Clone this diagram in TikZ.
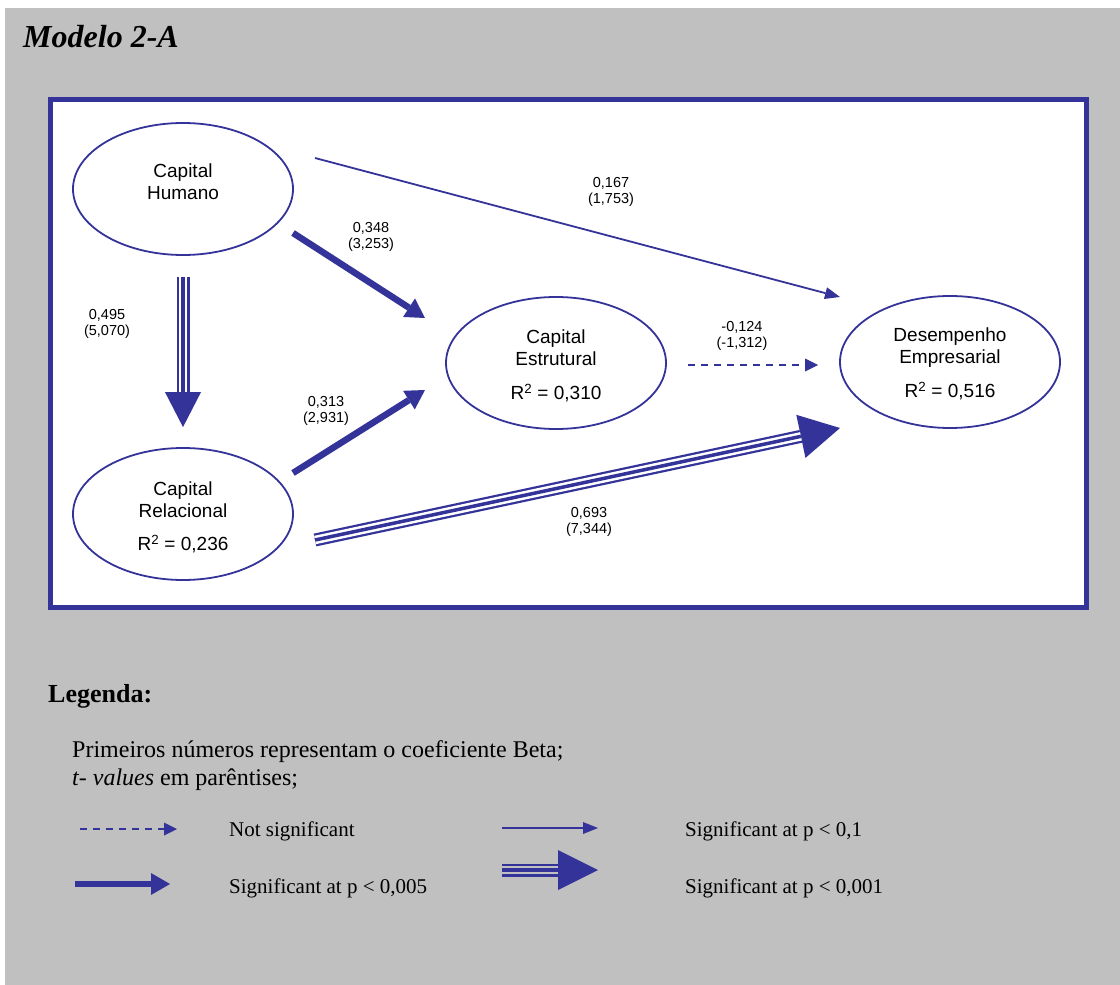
\documentclass[tikz,border=0pt]{standalone}
\usepackage{fontspec}
\setmainfont{Liberation Serif}
\newfontfamily\arialfont{Liberation Sans}
\usetikzlibrary{arrows.meta,shapes.geometric,calc}
\definecolor{pathblue}{RGB}{51,51,153}
\definecolor{panelgray}{RGB}{192,192,192}

\tikzset{
  construct/.style={ellipse, draw=pathblue, line width=1.8pt,
    minimum width=220pt, minimum height=132pt, inner sep=0pt},
  ctext/.style={font=\arialfont\fontsize{19}{22}\selectfont, align=center,
    inner sep=0pt},
  coef/.style={font=\arialfont\fontsize{14.5}{16}\selectfont, align=center,
    inner sep=0pt},
  legtext/.style={font=\fontsize{21}{24}\selectfont, inner sep=0pt, anchor=base west},
  notetext/.style={font=\fontsize{24}{28}\selectfont, inner sep=0pt, anchor=base west},
  thinarrow/.style={color=pathblue, line width=1.8pt,
    -{Triangle[length=15pt,width=12pt,line width=0pt 0 1]}},
  thickarrow/.style={color=pathblue, line width=6.5pt,
    -{Triangle[length=19pt,width=22pt,line width=0pt 0 1]}},
  dasharrow/.style={color=pathblue, line width=1.4pt, dash pattern=on 7pt off 6pt,
    -{Triangle[length=13pt,width=13pt,line width=0pt 0 1]}},
  triplearrow/.style n args={3}{color=pathblue, line width=13pt,
    -{Triangle[length=#1,width=#2,line width=0pt 0 1]},
    postaction={draw=#3, line width=8.5pt, -, shorten >=#1},
    postaction={draw=pathblue, line width=3.5pt, -, shorten >=#1}},
}

\begin{document}
\begin{tikzpicture}[x=1pt, y=-1pt]
  \useasboundingbox (0,0) rectangle (1120,985);
  % panel and diagram frame
  \fill[panelgray] (5,8) rectangle (1120,985);
  \draw[pathblue, line width=5pt, fill=white] (50.5,99.5) rectangle (1086.5,607.5);

  \node[font=\fontsize{32}{36}\selectfont\bfseries\itshape, inner sep=0pt,
        anchor=base west] (title) at (23,47) {Modelo 2-A};

  % constructs
  \node[construct] (hum) at (183,189) {};
  \node[construct] (rel) at (183,514) {};
  \node[construct] (est) at (556,363) {};
  \node[construct] (des) at (950,362) {};

  \node[ctext] (humT) at (183,182) {Capital\\Humano};
  \node[ctext] (relT) at (183,500) {Capital\\Relacional};
  \node[ctext] (relR) at (183,544) {R\textsuperscript{2} = 0,236};
  \node[ctext] (estT) at (556,348) {Capital\\Estrutural};
  \node[ctext] (estR) at (556,393) {R\textsuperscript{2} = 0,310};
  \node[ctext] (desT) at (950,348) {Desempenho\\Empresarial};
  \node[ctext] (desR) at (950,391) {R\textsuperscript{2} = 0,516};

  % paths
  \draw[thinarrow] ($(hum)+(132,-31)$) -- ($(des)+(-110,-65)$);
  \draw[thickarrow] ($(hum)+(110,44)$) -- ($(est)+(-131,-45)$);
  \draw[thickarrow] ($(rel)+(110,-41)$) -- ($(est)+(-131,27)$);
  \draw[triplearrow={35pt}{36pt}{white}] ($(hum.south)+(0,21)$) -- ($(rel.north)+(0,-20)$);
  \draw[dasharrow] ($(est)+(132,2)$) -- ($(des)+(-132,3)$);
  \draw[triplearrow={40pt}{44pt}{white}] ($(rel)+(132,26)$) -- ($(des)+(-110,66)$);

  % coefficients (t-values)
  \node[coef] (c1) at (611,192) {0,167\\(1,753)};
  \node[coef] (c2) at (371,237) {0,348\\(3,253)};
  \node[coef] (c3) at (107,324) {0,495\\(5,070)};
  \node[coef] (c4) at (326,411) {0,313\\(2,931)};
  \node[coef] (c5) at (742,336) {-0,124\\(-1,312)};
  \node[coef] (c6) at (589,522) {0,693\\(7,344)};

  % legend
  \node[font=\fontsize{26}{30}\selectfont\bfseries, inner sep=0pt, anchor=base west]
    (legT) at (48,702) {Legenda:};
  \node[notetext] (note1) at (72,757) {Primeiros números representam o coeficiente Beta;};
  \node[notetext] (note2) at (72,785) {\textit{t- values} em parêntises;};

  \coordinate (l1a) at (80,829);  \coordinate (l1b) at (177,829);
  \coordinate (l2a) at (75,884);  \coordinate (l2b) at (170,884);
  \coordinate (l3a) at (502,828); \coordinate (l3b) at (598,828);
  \coordinate (l4a) at (502,870); \coordinate (l4b) at (598,870);
  \draw[dasharrow] (l1a) -- (l1b);
  \draw[thickarrow] (l2a) -- (l2b);
  \draw[thinarrow] (l3a) -- (l3b);
  \draw[triplearrow={40pt}{40pt}{panelgray}] (l4a) -- (l4b);

  \node[legtext] (k1) at (229,836) {Not significant};
  \node[legtext] (k2) at (229,893) {Significant at p < 0,005};
  \node[legtext] (k3) at (685,836) {Significant at p < 0,1};
  \node[legtext] (k4) at (685,893) {Significant at p < 0,001};
\end{tikzpicture}
\end{document}
